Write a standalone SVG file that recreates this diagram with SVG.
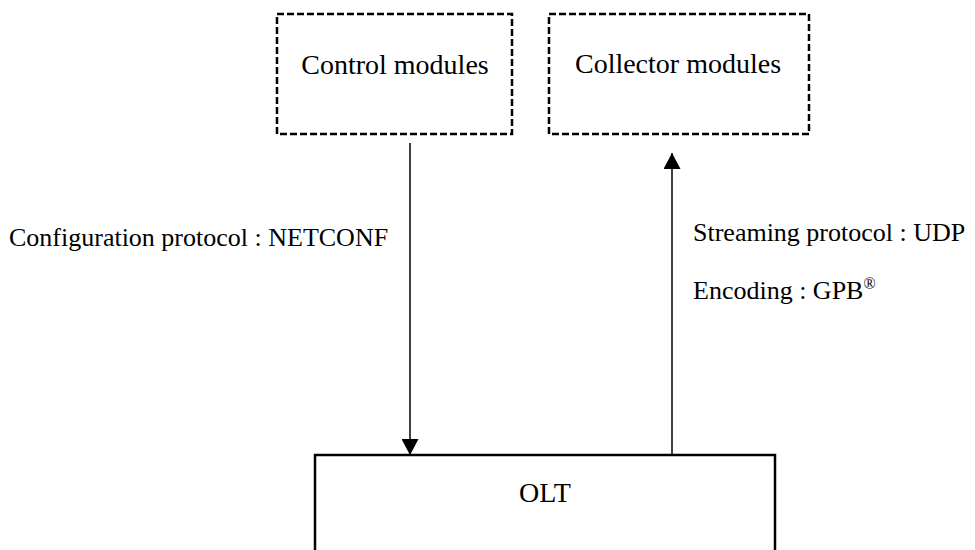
<svg xmlns="http://www.w3.org/2000/svg" width="975" height="550" viewBox="0 0 975 550">
  <style>
    .lbl { font-family: "Liberation Serif", "Times New Roman", serif; fill: #000; }
    .box-dash { fill: none; stroke: #000; stroke-width: 2.5; stroke-dasharray: 7 3; }
    .box-solid { fill: none; stroke: #000; stroke-width: 2.5; }
    .wire { fill: none; stroke: #000; stroke-width: 1.5; }
  </style>
  <defs>
    <marker id="arrow" viewBox="0 0 16 17" refX="16" refY="8.5" markerWidth="16" markerHeight="17" markerUnits="userSpaceOnUse" orient="auto">
      <path d="M0,0 L16,8.5 L0,17 Z" fill="#000"/>
    </marker>
  </defs>
  <rect width="975" height="550" fill="#fff"/>

  <g id="control-modules">
    <rect class="box-dash" x="277" y="14" width="235" height="120"/>
    <text class="lbl" x="395" y="74" font-size="28" text-anchor="middle">Control modules</text>
  </g>

  <g id="collector-modules">
    <rect class="box-dash" x="549" y="14" width="260" height="120"/>
    <text class="lbl" x="678" y="73" font-size="28" text-anchor="middle">Collector modules</text>
  </g>

  <g id="olt">
    <path class="box-solid" d="M315,560 V455 H775 V560"/>
    <text class="lbl" x="545" y="502" font-size="28" text-anchor="middle">OLT</text>
  </g>

  <g id="connectors">
    <line class="wire" x1="410" y1="143" x2="410" y2="455" marker-end="url(#arrow)"/>
    <line class="wire" x1="672" y1="455" x2="672" y2="153" marker-end="url(#arrow)"/>
    <text class="lbl" x="9" y="246" font-size="26">Configuration protocol : NETCONF</text>
    <text class="lbl" x="693" y="241" font-size="26">Streaming protocol : UDP</text>
    <text class="lbl" x="693" y="299" font-size="26">Encoding : GPB<tspan font-size="16" dy="-10">®</tspan></text>
  </g>
</svg>
